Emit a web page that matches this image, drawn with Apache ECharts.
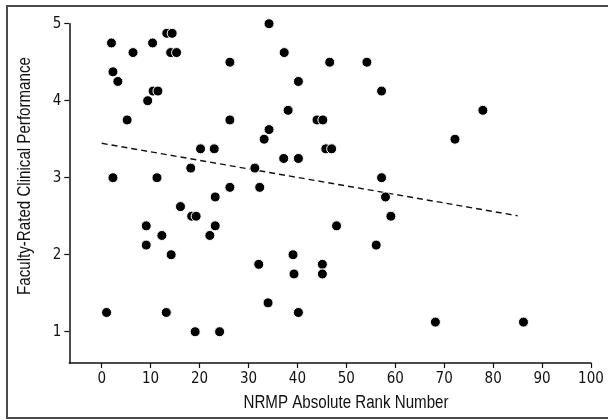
<!DOCTYPE html>
<html>
<head>
<meta charset="utf-8">
<script src="https://cdn.jsdelivr.net/npm/echarts@6/dist/echarts.min.js"></script>
<style>
  html, body { margin: 0; padding: 0; background: #fff; }
  #chart { width: 608px; height: 420px; }
</style>
</head>
<body>
<div id="chart"></div>
<script>
// NRMP rank (x) vs faculty rating (y)
const rankNumber = [
  2, 6.4, 10.4, 13.3, 14.4, 14.1, 15.3, 2.3, 3.3, 10.5, 11.5, 9.4, 5.2,
  34.2, 26.2, 37.3, 40.2, 38.1, 26.2, 44.0, 45.2, 34.2, 33.2, 20.2, 23.0,
  45.8, 47.0, 37.2, 40.2, 18.2, 31.3, 2.3, 11.3, 26.2, 32.3, 23.2,
  46.6, 54.2, 57.2, 77.9, 72.2, 57.2, 58.0,
  16.1, 18.4, 19.3, 9.1, 23.2, 12.3, 22.1, 9.1, 14.2, 48.0,
  32.1, 39.1, 39.3, 45.1, 45.1, 34.0, 1.0, 13.2, 40.2, 19.1, 24.1,
  59.1, 56.1, 68.2, 86.2
]
const performance = [
  4.75, 4.625, 4.75, 4.875, 4.875, 4.625, 4.625, 4.375, 4.25, 4.125, 4.125, 4.0, 3.75,
  5.0, 4.5, 4.625, 4.25, 3.875, 3.75, 3.75, 3.75, 3.625, 3.5, 3.375, 3.375,
  3.375, 3.375, 3.25, 3.25, 3.125, 3.125, 3.0, 3.0, 2.875, 2.875, 2.75,
  4.5, 4.5, 4.125, 3.875, 3.5, 3.0, 2.75,
  2.625, 2.5, 2.5, 2.375, 2.375, 2.25, 2.25, 2.125, 2.0, 2.375,
  1.875, 2.0, 1.75, 1.875, 1.75, 1.375, 1.25, 1.25, 1.25, 1.0, 1.0,
  2.5, 2.125, 1.125, 1.125
]
// fitted line end points
const fitX = [0, 85]
const fitY = [3.447, 2.506]

const xTicks = [0, 10, 20, 30, 40, 50, 60, 70, 80, 90, 100]
const yTicks = [1, 2, 3, 4, 5]

const tickFont = "'DejaVu Sans Condensed', sans-serif"
// Arial Narrow look: Liberation Sans squeezed horizontally
const titleFont = "18px 'Liberation Sans', Arial, sans-serif"

const chart = echarts.init(document.getElementById('chart'), null, { renderer: 'canvas' })

const points = rankNumber.map((x, i) => [x, performance[i]])
const fitLine = fitX.map((x, i) => [x, fitY[i]])

const option = {
  animation: false,
  backgroundColor: '#fff',
  grid: { left: 69.3, right: 17, top: 23.7, bottom: 57, containLabel: false },
  xAxis: {
    type: 'value',
    min: -6.62,
    max: 100,
    splitLine: { show: false },
    axisLine: { show: true, onZero: false, lineStyle: { color: '#111', width: 1.5 } },
    axisTick: { show: true, length: 5, customValues: xTicks, lineStyle: { color: '#111', width: 1.2 } },
    axisLabel: { customValues: xTicks, color: '#111', fontSize: 15, fontFamily: tickFont, margin: 9 }
  },
  yAxis: {
    type: 'value',
    min: 0.594,
    max: 5,
    splitLine: { show: false },
    axisLine: { show: true, onZero: false, lineStyle: { color: '#111', width: 1.5 } },
    axisTick: { show: true, length: 5, customValues: yTicks, lineStyle: { color: '#111', width: 1.2 } },
    axisLabel: { customValues: yTicks, color: '#111', fontSize: 15, fontFamily: tickFont, margin: 8 }
  },
  graphic: [
    {
      type: 'rect',
      shape: { x: 7, y: 6, width: 640, height: 412 },
      style: { fill: 'none', stroke: '#4a4a4a', lineWidth: 2 },
      silent: true
    },
    {
      type: 'text',
      x: 346, y: 403,
      scaleX: 0.84,
      style: {
        text: 'NRMP Absolute Rank Number',
        fill: '#111', font: titleFont,
        textAlign: 'center', textVerticalAlign: 'middle'
      }
    },
    {
      type: 'text',
      x: 25.5, y: 176,
      rotation: Math.PI / 2,
      scaleX: 0.84,
      style: {
        text: 'Faculty-Rated Clinical Performance',
        fill: '#111', font: titleFont,
        textAlign: 'center', textVerticalAlign: 'middle'
      }
    }
  ],
  series: [
    {
      type: 'scatter',
      data: points,
      symbolSize: 10,
      itemStyle: { color: '#000', borderColor: '#fff', borderWidth: 1, opacity: 1 },
      z: 3
    },
    {
      type: 'line',
      data: fitLine,
      symbol: 'none',
      lineStyle: { color: '#111', width: 1.4, type: [6, 4] },
      z: 2
    }
  ]
}
chart.setOption(option)
</script>
</body>
</html>
